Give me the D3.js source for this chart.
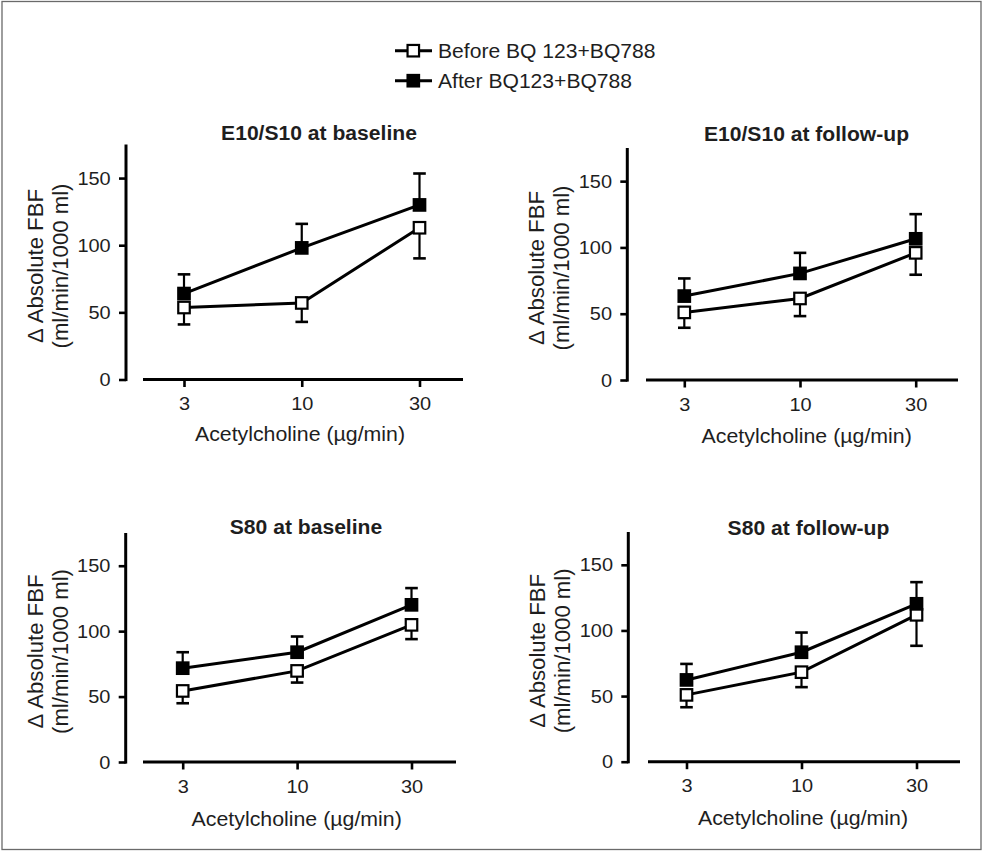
<!DOCTYPE html>
<html>
<head>
<meta charset="utf-8">
<script src="https://cdn.jsdelivr.net/npm/d3@7"></script>
<style>
  html, body { margin: 0; padding: 0; background: #fff; }
  svg text { font-family: "Liberation Sans", Arial, Helvetica, sans-serif; fill: #1e1e1e; }
</style>
</head>
<body>
<script>
// ---------------- data ----------------
const doses = ["3", "10", "30"];
const panelTitles = ["E10/S10 at baseline", "E10/S10 at follow-up", "S80 at baseline", "S80 at follow-up"];
const seriesNames = ["Before BQ 123+BQ788", "After BQ123+BQ788"];
const yTicks = [0, 50, 100, 150];
const yMax = 175;
const xTitle = "Acetylcholine (µg/min)";
const yTitle1 = "Δ Absolute FBF";
const yTitle2 = "(ml/min/1000 ml)";

// mean values (before = open squares, after = filled squares)
const beforeMean = [
  [53.6, 57.0, 113.0],
  [51.0, 61.5, 95.9],
  [54.3, 69.6, 104.8],
  [50.9, 68.2, 111.9]
];
const beforeSem = [
  [12.6, 14.1, 22.8],
  [11.6, 13.3, 16.5],
  [9.4, 8.9, 10.9],
  [9.4, 11.4, 23.6]
];
const afterMean = [
  [64.0, 98.0, 130.0],
  [63.3, 80.4, 106.5],
  [71.7, 83.9, 120.1],
  [62.3, 83.4, 120.3]
];
const afterSem = [
  [14.3, 17.9, 23.4],
  [13.3, 15.5, 18.6],
  [12.2, 12.0, 12.8],
  [12.2, 15.0, 16.5]
];

// ---------------- layout ----------------
const W = 983, H = 851;
const STRETCH = 1.04;
const layout = [
  { yAxisX: 126.0, xLine: [143, 463], xRange: [184, 419.5], yRange: [379.5, 144.5], titleX: 319, titleY: 139.5, xLabelX: 300, xLabelY: 441 },
  { yAxisX: 627.3, xLine: [646, 958], xRange: [684.3, 915.7], yRange: [380, 148], titleX: 806.5, titleY: 140.5, xLabelX: 806.7, xLabelY: 442.5 },
  { yAxisX: 125.7, xLine: [143, 456], xRange: [182.7, 411.5], yRange: [762, 533], titleX: 306, titleY: 534, xLabelX: 296.7, xLabelY: 825.5 },
  { yAxisX: 628.3, xLine: [648, 960], xRange: [686.5, 916.5], yRange: [761.7, 532], titleX: 808.5, titleY: 534.5, xLabelX: 803, xLabelY: 824.5 }
];

const svg = d3.select("body").append("svg")
  .attr("width", W).attr("height", H)
  .attr("viewBox", `0 0 ${W} ${H}`);

svg.append("rect").attr("x", 0).attr("y", 0).attr("width", W).attr("height", H).attr("fill", "#fff");
svg.append("rect").attr("x", 2).attr("y", 1.5).attr("width", W - 4).attr("height", H - 3)
  .attr("fill", "none").attr("stroke", "#6a6a6a").attr("stroke-width", 1.3);

function stretch(sel, k) {
  sel.each(function () {
    const L = this.getComputedTextLength();
    d3.select(this).attr("textLength", L * k).attr("lengthAdjust", "spacingAndGlyphs");
  });
}

const MS = 11.5; // marker size

function drawMarker(g, cx, cy, filled) {
  g.append("rect")
    .attr("x", cx - MS / 2).attr("y", cy - MS / 2)
    .attr("width", MS).attr("height", MS)
    .attr("fill", filled ? "#000" : "#fff")
    .attr("stroke", "#000").attr("stroke-width", 2.2);
}

// ---------------- legend ----------------
const legend = svg.append("g");
[0, 1].forEach(i => {
  const cy = 50.7 + i * 30;
  legend.append("line").attr("x1", 395).attr("x2", 432).attr("y1", cy).attr("y2", cy)
    .attr("stroke", "#000").attr("stroke-width", 3);
  drawMarker(legend, 413.3, cy, i === 1);
  const t = legend.append("text").attr("x", 438).attr("y", cy + 6.8)
    .attr("font-size", 20.3).text(seriesNames[i]);
  stretch(t, STRETCH);
});

// ---------------- panels ----------------
layout.forEach((L, p) => {
  const g = svg.append("g");
  const x = d3.scalePoint().domain(doses).range(L.xRange);
  const y = d3.scaleLinear().domain([0, yMax]).range(L.yRange);
  const y0 = L.yRange[0], yT = L.yRange[1];

  // y axis
  const ya = g.append("g").attr("transform", `translate(${L.yAxisX},0)`)
    .call(d3.axisLeft(y).tickValues(yTicks).tickSize(7).tickPadding(8.3).tickFormat(d3.format("d")));
  ya.select(".domain").remove();
  ya.selectAll(".tick line").attr("stroke", "#000").attr("stroke-width", 2.6);
  ya.selectAll(".tick text").attr("font-size", 19.2).attr("fill", "#1e1e1e")
    .attr("font-family", "Liberation Sans, Arial, sans-serif");
  stretch(ya.selectAll(".tick text"), STRETCH);
  g.append("line").attr("x1", L.yAxisX).attr("x2", L.yAxisX).attr("y1", yT).attr("y2", y0 + 1.6)
    .attr("stroke", "#000").attr("stroke-width", 3);

  // x axis
  const xa = g.append("g").attr("transform", `translate(0,${y0})`)
    .call(d3.axisBottom(x).tickSize(7.5).tickPadding(9.5));
  xa.select(".domain").remove();
  xa.selectAll(".tick line").attr("stroke", "#000").attr("stroke-width", 2.6);
  xa.selectAll(".tick text").attr("font-size", 19.2).attr("fill", "#1e1e1e")
    .attr("font-family", "Liberation Sans, Arial, sans-serif");
  stretch(xa.selectAll(".tick text"), STRETCH);
  g.append("line").attr("x1", L.xLine[0]).attr("x2", L.xLine[1]).attr("y1", y0).attr("y2", y0)
    .attr("stroke", "#000").attr("stroke-width", 3);

  // titles
  const tt = g.append("text").attr("x", L.titleX).attr("y", L.titleY)
    .attr("text-anchor", "middle").attr("font-size", 20.3).attr("font-weight", "bold")
    .text(panelTitles[p]);
  stretch(tt, STRETCH);

  const xt = g.append("text").attr("x", L.xLabelX).attr("y", L.xLabelY)
    .attr("text-anchor", "middle").attr("font-size", 20.5).text(xTitle);
  stretch(xt, STRETCH);

  const cy = (y0 + yT) / 2 + 4;
  const yl1 = g.append("text").attr("transform", `translate(${L.yAxisX - 83},${cy}) rotate(-90)`)
    .attr("text-anchor", "middle").attr("font-size", 21.3).text(yTitle1);
  stretch(yl1, STRETCH);
  const yl2 = g.append("text").attr("transform", `translate(${L.yAxisX - 58},${cy}) rotate(-90)`)
    .attr("text-anchor", "middle").attr("font-size", 21.3).text(yTitle2);
  stretch(yl2, STRETCH);

  // series
  const series = [
    { mean: beforeMean[p], sem: beforeSem[p], filled: false, dir: -1 },
    { mean: afterMean[p], sem: afterSem[p], filled: true, dir: 1 }
  ];
  const line = d3.line().x((d, i) => x(doses[i])).y(d => y(d));

  series.forEach(s => {
    g.append("path").datum(s.mean).attr("d", line)
      .attr("fill", "none").attr("stroke", "#000").attr("stroke-width", 3);
  });
  series.forEach(s => {
    s.mean.forEach((m, i) => {
      const cx = x(doses[i]);
      const end = y(m + s.dir * s.sem[i]);
      g.append("line").attr("x1", cx).attr("x2", cx).attr("y1", y(m)).attr("y2", end)
        .attr("stroke", "#000").attr("stroke-width", 2.2);
      g.append("line").attr("x1", cx - 6.3).attr("x2", cx + 6.3).attr("y1", end).attr("y2", end)
        .attr("stroke", "#000").attr("stroke-width", 2.6);
    });
  });
  series.forEach(s => {
    s.mean.forEach((m, i) => drawMarker(g, x(doses[i]), y(m), s.filled));
  });
});
</script>
</body>
</html>
